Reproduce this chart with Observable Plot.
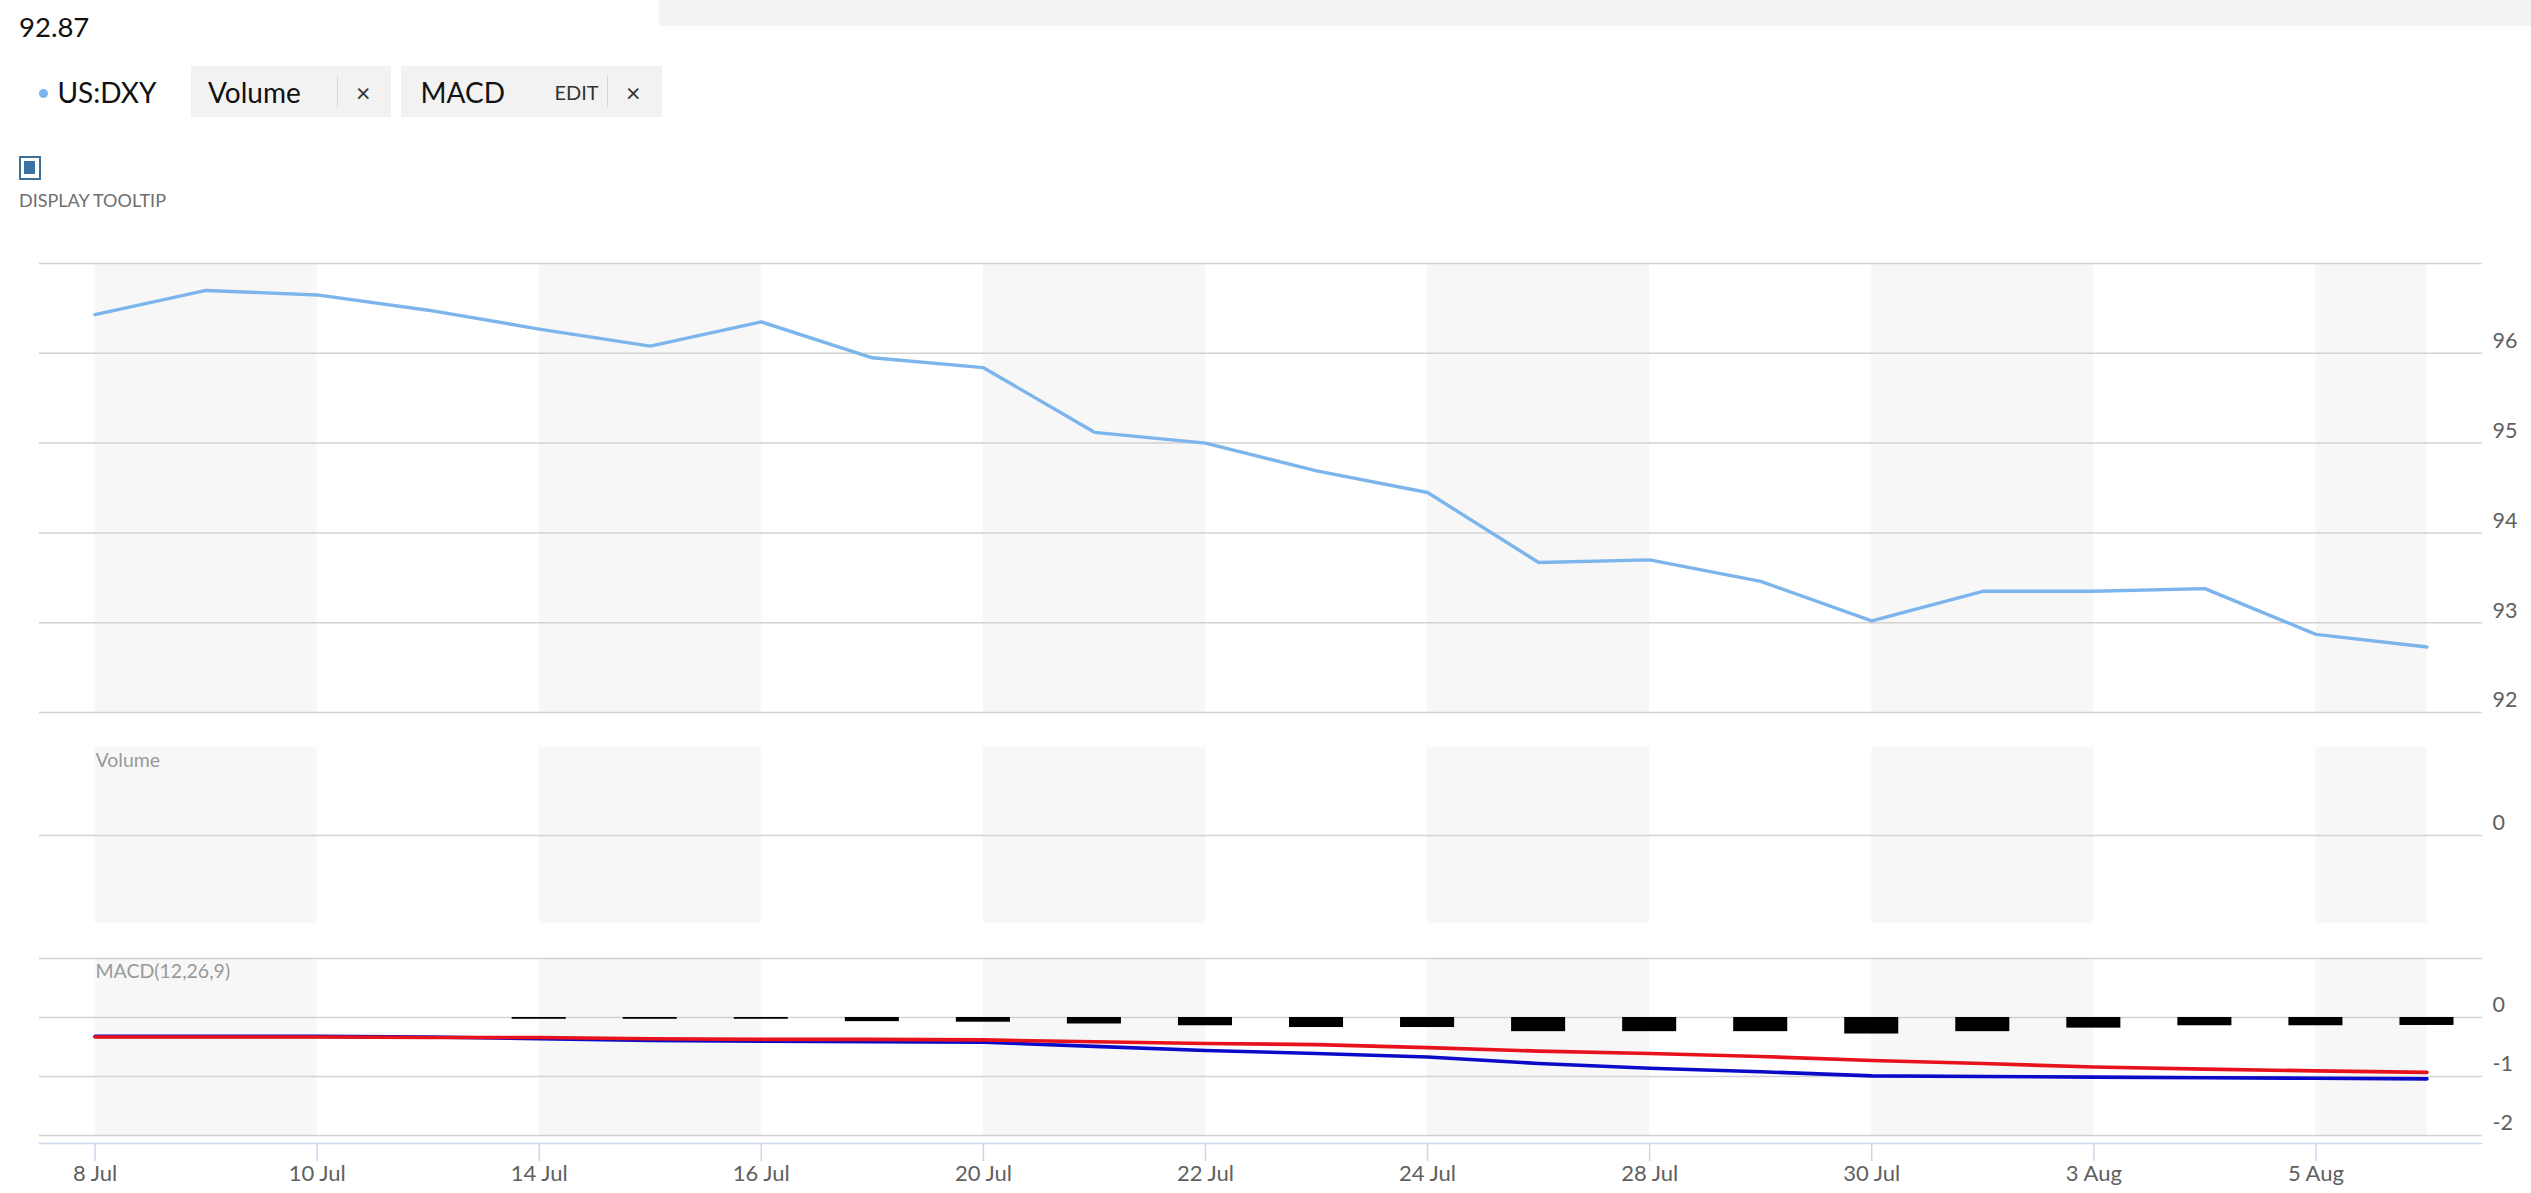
<!DOCTYPE html>
<html>
<head>
<meta charset="utf-8">
<script src="https://cdn.jsdelivr.net/npm/d3@7"></script>
<script src="https://cdn.jsdelivr.net/npm/@observablehq/plot@0.6"></script>
<style>
  html, body { margin: 0; padding: 0; background: #fff; }
  #page { position: relative; width: 2531px; height: 1193px; overflow: hidden; background: #fff; font-family: Lato, "Noto Sans", sans-serif; }
  .abs { position: absolute; white-space: nowrap; line-height: 1.2; }
  .box { position: absolute; background: #f2f2f2; }
  .sep { position: absolute; width: 1.5px; background: #d4d4d4; }
  .panel { position: absolute; left: 0; }
</style>
</head>
<body>
<div id="page">
  <div class="box" style="left:659px;top:0;width:1872px;height:26px;background:#f3f3f3"></div>
  <div class="abs" id="lastValue" style="left:19px;top:10px;font-size:27.5px;color:#111"></div>

  <div class="abs" style="left:38.8px;top:88.8px;width:9px;height:9px;border-radius:50%;background:#7cb5ec"></div>
  <div class="abs" id="seriesName" style="left:57.5px;top:75.5px;font-size:28px;color:#111"></div>

  <div class="box" style="left:191px;top:66px;width:200px;height:51px"></div>
  <div class="abs" id="volName" style="left:208px;top:75.5px;font-size:28px;color:#111"></div>
  <div class="sep" style="left:336.5px;top:76px;height:31px"></div>
  <div class="abs" style="left:356px;top:76.5px;font-size:25px;color:#333">×</div>

  <div class="box" style="left:401px;top:66px;width:261px;height:51px"></div>
  <div class="abs" id="macdName" style="left:420.5px;top:75.5px;font-size:28px;color:#111"></div>
  <div class="abs" style="left:554.5px;top:79.6px;font-size:20px;color:#333">EDIT</div>
  <div class="sep" style="left:606.5px;top:76px;height:31px"></div>
  <div class="abs" style="left:626px;top:76.5px;font-size:25px;color:#333">×</div>

  <div class="abs" style="left:19px;top:156px;width:18px;height:19.5px;border:2px solid #3f6f95;box-sizing:content-box;background:#fff"></div>
  <div class="abs" style="left:23.5px;top:161px;width:11.5px;height:13px;background:#3a72a4"></div>
  <div class="abs" style="left:19px;top:189.5px;font-size:18px;color:#6e6e6e">DISPLAY TOOLTIP</div>

  <div class="panel" id="mainPanel" style="top:240px"></div>
  <div class="panel" id="volPanel" style="top:730px"></div>
  <div class="panel" id="macdPanel" style="top:945px"></div>
</div>
<script>
// ---- data ----
const dates = ["8 Jul","9 Jul","10 Jul","13 Jul","14 Jul","15 Jul","16 Jul","17 Jul","20 Jul","21 Jul","22 Jul",
               "23 Jul","24 Jul","27 Jul","28 Jul","29 Jul","30 Jul","31 Jul","3 Aug","4 Aug","5 Aug","6 Aug"];
const dxyClose = [96.43, 96.70, 96.65, 96.48, 96.27, 96.08, 96.35, 95.95, 95.84, 95.12, 95.00,
                  94.69, 94.45, 93.67, 93.70, 93.46, 93.02, 93.35, 93.35, 93.38, 92.87, 92.73];
const macdLine = [-0.32, -0.32, -0.32, -0.33, -0.36, -0.39, -0.40, -0.41, -0.42, -0.49, -0.56,
                  -0.61, -0.67, -0.78, -0.86, -0.92, -0.99, -1.00, -1.01, -1.02, -1.03, -1.04];
const signalLine = [-0.33, -0.33, -0.33, -0.34, -0.34, -0.36, -0.37, -0.37, -0.38, -0.41, -0.44,
                    -0.46, -0.51, -0.57, -0.61, -0.66, -0.73, -0.78, -0.84, -0.875, -0.905, -0.93];
const histogram = [null, null, null, null, -0.03, -0.03, -0.03, -0.07, -0.08, -0.11, -0.14,
                   -0.17, -0.17, -0.24, -0.24, -0.24, -0.28, -0.24, -0.18, -0.14, -0.14, -0.135];
const tickIndex = [0, 2, 4, 6, 8, 10, 12, 14, 16, 18, 20];
const bandFrom = [0, 4, 8, 12, 16, 20];
const bandTo   = [2, 6, 10, 14, 18, 21];
const priceTicks = [92, 93, 94, 95, 96];
const priceGrid = [92, 93, 94, 95, 96, 97];
const volumeTicks = [0];
const macdTicks = [-2, -1, 0];
const macdGrid = [-2, -1, 0, 1];
const seriesName = "US:DXY";
const lastValue = "92.87";
const volumeLabel = "Volume";
const macdLabel = "MACD(12,26,9)";

document.getElementById("lastValue").textContent = lastValue;
document.getElementById("seriesName").textContent = seriesName;
document.getElementById("volName").textContent = volumeLabel;
document.getElementById("macdName").textContent = "MACD";

// ---- tables ----
const rows = dates.map((d, i) => ({i, date: d, close: dxyClose[i], macd: macdLine[i], signal: signalLine[i], hist: histogram[i]}));
const bands = bandFrom.map((a, k) => ({a, b: bandTo[k]}));

const W = 2531;
const xScale = {type: "linear", domain: [-0.5, 21.5], axis: null};
const common = {
  width: W, marginLeft: 39, marginRight: 49,
  style: {fontFamily: "Lato, 'Noto Sans', sans-serif", fontSize: "21px", background: "transparent", overflow: "visible"}
};
const shade = Plot.rect(bands, {x1: "a", x2: "b", fill: "#f7f7f7"});
const yAxisRight = (ticks) => Plot.axisY({ticks, anchor: "right", tickSize: 0, tickPadding: 10, dy: -12,
  fill: "#606060", fontSize: 21.5, textAnchor: "start", label: null, tickFormat: d => String(d)});
const grid = (ticks) => Plot.gridY({ticks, stroke: "#d2d2d2", strokeOpacity: 1, strokeWidth: 1.5});

// ---- main price panel ----
const mainPlot = Plot.plot({
  ...common, height: 490, marginTop: 23, marginBottom: 18,
  x: xScale,
  y: {domain: [92, 97], axis: null},
  marks: [
    shade,
    grid(priceGrid),
    yAxisRight(priceTicks),
    Plot.line(rows, {x: "i", y: "close", stroke: "#7cb5ec", strokeWidth: 3.4, strokeLinejoin: "round", strokeLinecap: "round"})
  ]
});
document.getElementById("mainPanel").appendChild(mainPlot);

// ---- volume panel (empty) ----
const volPlot = Plot.plot({
  ...common, height: 215, marginTop: 17, marginBottom: 22,
  x: xScale,
  y: {domain: [-1, 1], axis: null},
  marks: [
    shade,
    grid(volumeTicks),
    yAxisRight(volumeTicks),
    Plot.text([volumeLabel], {text: d => d, frameAnchor: "top-left", dx: 56, dy: 6, fill: "#999", fontSize: 19.5})
  ]
});
document.getElementById("volPanel").appendChild(volPlot);

// ---- MACD panel ----
const macdPlot = Plot.plot({
  ...common, height: 248, marginTop: 13, marginBottom: 58,
  x: {...xScale},
  y: {domain: [-2, 1], axis: null},
  marks: [
    shade,
    grid(macdGrid),
    Plot.ruleY([-2], {dy: 8, stroke: "#ccd6eb", strokeWidth: 1.5}),
    yAxisRight(macdTicks),
    Plot.rectY(rows.filter(d => d.hist != null), {x1: d => d.i - 0.5, x2: d => d.i + 0.5, y1: 0, y2: "hist", insetLeft: 28.5, insetRight: 28.5, fill: "#000"}),
    Plot.line(rows, {x: "i", y: "macd", stroke: "#0a0ac8", strokeWidth: 3.6, strokeLinejoin: "round"}),
    Plot.line(rows, {x: "i", y: "signal", stroke: "#e8121c", strokeWidth: 3.6, strokeLinejoin: "round"}),
    Plot.text([macdLabel], {text: d => d, frameAnchor: "top-left", dx: 56, dy: 6, fill: "#999", fontSize: 19.5}),
    Plot.axisX({ticks: tickIndex, tickFormat: i => dates[i], anchor: "bottom", tickSize: 18, tickPadding: 4, dy: 8,
      stroke: "#ccd6eb", fill: "#606060", fontSize: 22, label: null, strokeWidth: 1.5})
  ]
});
document.getElementById("macdPanel").appendChild(macdPlot);
</script>
</body>
</html>
